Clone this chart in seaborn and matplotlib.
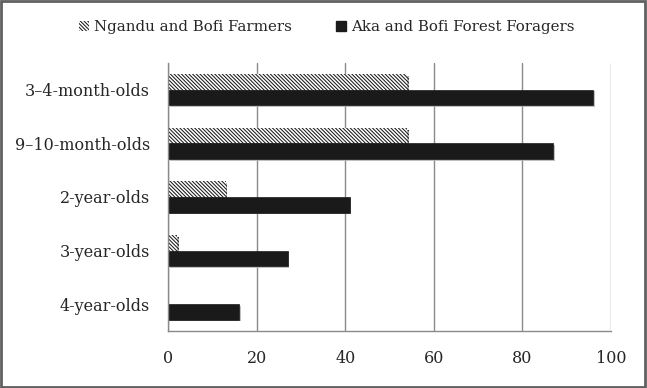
import matplotlib
matplotlib.use("Agg")
import matplotlib.pyplot as plt
import matplotlib.patheffects as pe
from matplotlib.patches import Rectangle, Patch
import seaborn as sns
import pandas as pd

categories = ["3\u20134-month-olds", "9\u201310-month-olds", "2-year-olds", "3-year-olds", "4-year-olds"]
series_names = ["Ngandu and Bofi Farmers", "Aka and Bofi Forest Foragers"]
farmers = [54, 54, 13, 2, 0]
foragers = [96, 87, 41, 27, 16]
x_ticks = [0, 20, 40, 60, 80, 100]

df = pd.DataFrame({
    "group": categories * 2,
    "value": farmers + foragers,
    "series": [series_names[0]] * len(categories) + [series_names[1]] * len(categories),
})

sns.set_theme(style="white")
plt.rcParams["font.family"] = ["DejaVu Serif"]
plt.rcParams["hatch.linewidth"] = 0.75

HATCH = "\\" * 9
FS = 11.5
FS_LEG = 10.8

fig = plt.figure(figsize=(6.47, 3.88), dpi=100)
ax = fig.add_axes([168 / 647, 1 - 331 / 388, (611 - 168) / 647, (331 - 63) / 388])

sns.barplot(data=df, y="group", x="value", hue="series", order=categories,
            hue_order=series_names, palette=["white", "#1a1a1a"], orient="h",
            width=0.58, gap=0, ax=ax, legend=False, saturation=1)

n = len(categories)
shadow = [pe.SimplePatchShadow(offset=(1.2, -1.2), shadow_rgbFace="#b0b0b0", alpha=0.8), pe.Normal()]
for i, patch in enumerate(ax.patches):
    if i < n:
        patch.set_hatch(HATCH)
        patch.set_edgecolor("#1a1a1a")
        patch.set_linewidth(0)
    else:
        patch.set_edgecolor("#1a1a1a")
        patch.set_linewidth(0.5)
    patch.set_path_effects(shadow)

ax.set_xlim(0, 100)
ax.set_ylim(n - 0.5, -0.5)
ax.set_xticks(x_ticks)
ax.set_xticklabels([str(t) for t in x_ticks], fontsize=FS)
ax.tick_params(axis="x", length=4, color="#808080", pad=10)
ax.set_yticks(range(n))
ax.set_yticklabels(categories, fontsize=FS)
ax.tick_params(axis="y", which="major", length=0, pad=13)
ax.set_yticks([i - 0.5 for i in range(n + 1)], minor=True)
ax.tick_params(axis="y", which="minor", length=5, color="#808080")
ax.set_xlabel("")
ax.set_ylabel("")
ax.grid(axis="x", color="#8a8a8a", linewidth=1.0)
ax.set_axisbelow(True)
for s in ["top", "right"]:
    ax.spines[s].set_visible(False)
for s in ["left", "bottom"]:
    ax.spines[s].set_color("#8a8a8a")
    ax.spines[s].set_linewidth(1.0)

handles = [Patch(facecolor="white", edgecolor="#1a1a1a", hatch=HATCH, linewidth=0),
           Patch(facecolor="#1a1a1a", edgecolor="#1a1a1a")]
fig.legend(handles, series_names, loc="center", bbox_to_anchor=(0.505, 1 - 27 / 388),
           ncol=2, frameon=False, fontsize=FS_LEG, handlelength=0.7, handleheight=0.7,
           handletextpad=0.35, columnspacing=2.9)

fig.patches.append(Rectangle((0.002, 0.003), 0.995, 0.994, transform=fig.transFigure,
                             fill=False, edgecolor="#606060", linewidth=2))

fig.savefig("out.png", dpi=100)
